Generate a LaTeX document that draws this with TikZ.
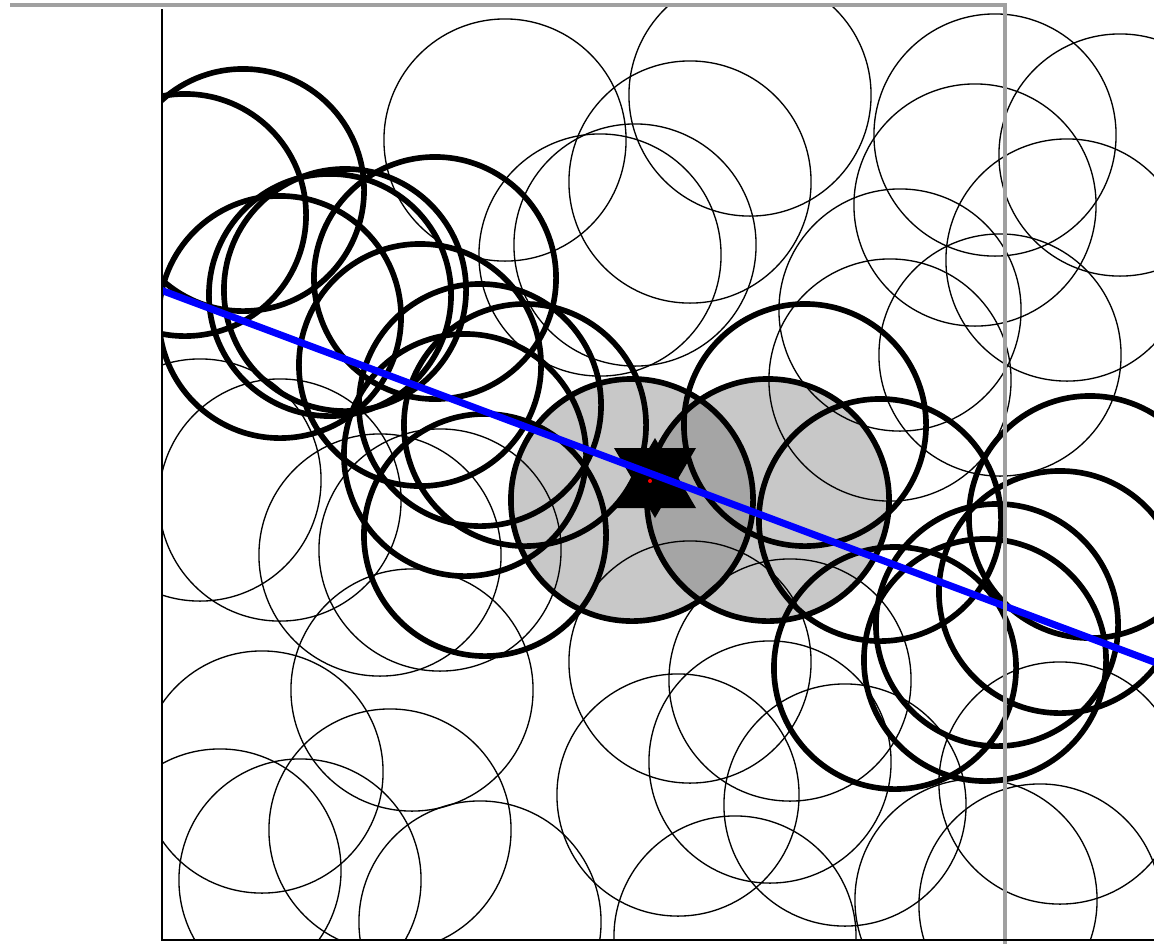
\documentclass[tikz,border=0pt]{standalone}
\usepackage{tikz}
\definecolor{disk}{RGB}{200,200,200}
\definecolor{overlap}{RGB}{165,165,165}
\definecolor{frame}{RGB}{160,160,160}
\definecolor{route}{RGB}{0,0,255}

\begin{document}
\begin{tikzpicture}[
  x=0.01cm, y=-0.01cm,
  sensor/.style={draw=black, line width=0.38pt},
  relay/.style={draw=black, line width=1.6pt},
  border/.style={draw=frame, line width=1.1pt},
  axisline/.style={draw=black, line width=0.6pt},
  track/.style={draw=route, line width=2pt}
]
\useasboundingbox[fill=white] (0,0) rectangle (1154,944);
\def\rng{1.21cm}
\coordinate (src) at (150,286);
\coordinate (snk) at (1170,668);
\begin{scope}
  \clip (162,7) rectangle (1154,940);
  % the two disks nearest to the target
  \fill[disk] (632,500) circle[radius=\rng];
  \fill[disk] (768,500) circle[radius=\rng];
  \begin{scope}
    \clip (632,500) circle[radius=\rng];
    \fill[overlap] (768,500) circle[radius=\rng];
  \end{scope}
  \foreach \cx/\cy in {505/140, 750/95, 995/135, 975/205, 1120/155, 1067/260,
    635/245, 600/255, 690/182, 900/310, 890/380, 1000/355,
    200/480, 280/500, 380/555, 440/550, 412/690, 262/772, 220/870, 300/880,
    390/830, 480/922, 690/662, 678/795, 770/762, 735/937, 845/805, 1060/783,
    1040/905, 976/900, 790/680}
    \draw[sensor] (\cx,\cy) circle[radius=\rng];
  \foreach \cx/\cy in {243/190, 185/215, 280/317, 330/295, 345/290, 435/278,
    420/365, 480/405, 465/455, 485/535, 525/425, 632/500, 768/500, 805/425,
    880/520, 1090/517, 1060/592, 997/625, 895/668, 985/660}
    \draw[relay] (\cx,\cy) circle[radius=\rng];
  % target
  \fill (655,438) -- (614,508) -- (696,508) -- cycle;
  \fill (655,518) -- (614,448) -- (696,448) -- cycle;
  \draw[track] (src) -- (snk);
  \fill[red] (650,481) circle[radius=0.02cm];
\end{scope}
\draw[border] (10,5) -- (1005,5) -- (1005,944);
\draw[axisline] (162,9) -- (162,940) -- (1154,940);
\end{tikzpicture}
\end{document}
